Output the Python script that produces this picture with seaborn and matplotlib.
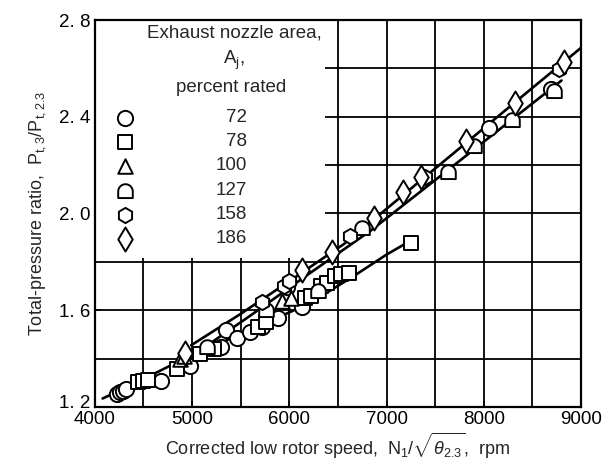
import numpy as np
import pandas as pd
import matplotlib
matplotlib.use("Agg")
import matplotlib.pyplot as plt
from matplotlib.path import Path
from matplotlib.patches import Rectangle
from matplotlib.transforms import ScaledTranslation
import seaborn as sns

# ---- data: exhaust nozzle area groups (percent rated) ----
areas = ["72", "78", "100", "127", "158", "186"]

speed_72 = [4230, 4260, 4290, 4320, 4680, 4980, 5300, 5350, 5460, 5600, 5720, 5880, 6130, 5980, 8050, 8690]
ratio_72 = [1.255, 1.262, 1.268, 1.274, 1.308, 1.368, 1.448, 1.520, 1.485, 1.510, 1.530, 1.568, 1.612, 1.695, 2.355, 2.515]

speed_78 = [4440, 4500, 4550, 4840, 5080, 5230, 5680, 5760, 6160, 6220, 6330, 6390, 6470, 6530, 6610, 7250]
ratio_78 = [1.302, 1.306, 1.311, 1.356, 1.420, 1.440, 1.530, 1.550, 1.652, 1.660, 1.700, 1.712, 1.740, 1.748, 1.755, 1.880]

speed_100 = [4880, 4920, 5920, 6020]
ratio_100 = [1.400, 1.412, 1.640, 1.652]

speed_127 = [5150, 5760, 6300, 6750, 7630, 7900, 8290, 8720]
ratio_127 = [1.450, 1.600, 1.680, 1.940, 2.170, 2.280, 2.385, 2.505]

speed_158 = [5720, 5950, 6000, 6620, 7400, 8770]
ratio_158 = [1.634, 1.700, 1.722, 1.905, 2.150, 2.598]

speed_186 = [4930, 6130, 6440, 6870, 7170, 7350, 7820, 8320, 8820]
ratio_186 = [1.425, 1.765, 1.840, 1.980, 2.090, 2.150, 2.300, 2.458, 2.625]

# faired curves
curve_a_x = [4990, 5500, 6000, 6570, 7200, 7800, 8400, 9000]
curve_a_y = [1.455, 1.585, 1.720, 1.876, 2.086, 2.286, 2.486, 2.685]
curve_b_x = [5050, 5600, 6200, 6840, 7500, 8200, 8800]
curve_b_y = [1.425, 1.578, 1.750, 1.930, 2.138, 2.360, 2.550]
curve_c_x = [4080, 4500, 4820, 5300, 5800, 6210, 6650, 7000, 7250]
curve_c_y = [1.235, 1.315, 1.380, 1.466, 1.555, 1.629, 1.738, 1.830, 1.888]

x_ticks = [4000, 5000, 6000, 7000, 8000, 9000]
y_ticks = [1.2, 1.6, 2.0, 2.4, 2.8]

# ---- styling ----
sns.set_theme(style="white")
plt.rcParams["font.family"] = ["Liberation Sans", "DejaVu Sans"]
plt.rcParams["mathtext.fontset"] = "custom"
plt.rcParams["mathtext.rm"] = "Liberation Sans"
plt.rcParams["mathtext.it"] = "Liberation Sans:italic"

# dome-shaped marker: flat bottom, semicircular top
theta = np.linspace(0, np.pi, 25)
dome_verts = [(-1.0, -0.9), (1.0, -0.9), (1.0, 0.0)] + \
    [(np.cos(t), np.sin(t)) for t in theta] + [(-1.0, -0.9)]
dome = Path(dome_verts, closed=True)

marker_map = {"72": "o", "78": "s", "100": "^", "127": dome, "158": "h", "186": "d"}
size_map = {"72": 120, "78": 100, "100": 110, "127": 110, "158": 120, "186": 150}

frames = []
for a, xs, ys in [("72", speed_72, ratio_72), ("78", speed_78, ratio_78),
                  ("100", speed_100, ratio_100), ("127", speed_127, ratio_127),
                  ("158", speed_158, ratio_158), ("186", speed_186, ratio_186)]:
    frames.append(pd.DataFrame({"speed": xs, "ratio": ys, "area": a}))
df = pd.concat(frames, ignore_index=True)

fig = plt.figure(figsize=(6.08, 4.74), dpi=100)
ax = fig.add_axes([0.156, 0.1414, 0.7996, 0.8164])

ax.set_xlim(4000, 9000)
ax.set_ylim(1.2, 2.8)

# grid every 500 rpm and 0.2 ratio
for gx in np.arange(4500, 9000, 500):
    ax.axvline(gx, color="black", lw=1.3, zorder=0.5)
for gy in np.arange(1.4, 2.8, 0.2):
    ax.axhline(gy, color="black", lw=1.3, zorder=0.5)

# blank panel for the key
ax.add_patch(Rectangle((4000, 1.815), 2366, 0.985, facecolor="white",
                       edgecolor="none", zorder=1))

# faired curves
for cx, cy in [(curve_a_x, curve_a_y), (curve_b_x, curve_b_y), (curve_c_x, curve_c_y)]:
    sns.lineplot(x=cx, y=cy, ax=ax, color="black", lw=1.9, sort=False,
                 estimator=None, zorder=2)

# data points, drawn one group at a time so each keeps its own size
for a in areas:
    sub = df[df["area"] == a]
    sns.scatterplot(data=sub, x="speed", y="ratio", ax=ax, marker=marker_map[a],
                    s=size_map[a], color="white", edgecolor="black",
                    linewidth=1.4, zorder=3, legend=False)

# key
tr = ax.transAxes
def ax_xy(px, py):
    return ((px - 95) / 486, (407 - py) / 387)

fs_key = 13.5
ax.text(*ax_xy(234, 33), "Exhaust nozzle area,", transform=tr, ha="center",
        va="center", fontsize=fs_key, zorder=4)
ax.text(*ax_xy(234, 60), r"A$_\mathregular{j}$,", transform=tr, ha="center",
        va="center", fontsize=fs_key, zorder=4)
ax.text(*ax_xy(231, 88), "percent rated", transform=tr, ha="center",
        va="center", fontsize=fs_key, zorder=4)
row_y = [118, 142, 166, 191, 215, 239]
for a, py in zip(areas, row_y):
    ax.scatter(*ax_xy(125, py), marker=marker_map[a], s=size_map[a], transform=tr,
               facecolor="white", edgecolor="black", linewidth=1.4, zorder=4,
               clip_on=False)
    ax.text(*ax_xy(247, py), a, transform=tr, ha="right", va="center",
            fontsize=fs_key, zorder=4)

# axes, ticks, labels
ax.set_xticks(x_ticks)
ax.set_xticklabels([str(v) for v in x_ticks])
ax.set_yticks(y_ticks)
ax.set_yticklabels([f"{v:.1f}".replace(".", ". ") for v in y_ticks])
ax.set_yticks([2.2, 2.6], minor=True)
ax.tick_params(axis="both", which="major", labelsize=13.5, direction="in",
               length=4, width=1.2, colors="black", pad=3)
ax.tick_params(axis="y", which="minor", direction="in", length=4, width=1.2,
               left=True)
ax.tick_params(axis="x", bottom=True)
ax.tick_params(axis="y", left=True)
# lift the bottom y label a little clear of the x labels
ax.get_yticklabels()[0].set_transform(
    ax.get_yticklabels()[0].get_transform() + ScaledTranslation(0, 5 / 100, fig.dpi_scale_trans))
for sp in ax.spines.values():
    sp.set_color("black")
    sp.set_linewidth(1.6)
    sp.set_zorder(5)

ax.set_xlabel(r"Corrected low rotor speed,  N$_\mathregular{1}$/$\sqrt{\theta_{2.3}}$,  rpm",
              fontsize=13, labelpad=2)
ax.set_ylabel(r"Total-pressure ratio,  P$_\mathregular{t,3}$/P$_\mathregular{t,2.3}$",
              fontsize=13, labelpad=8)

fig.savefig("out.png", dpi=100, facecolor="white")
